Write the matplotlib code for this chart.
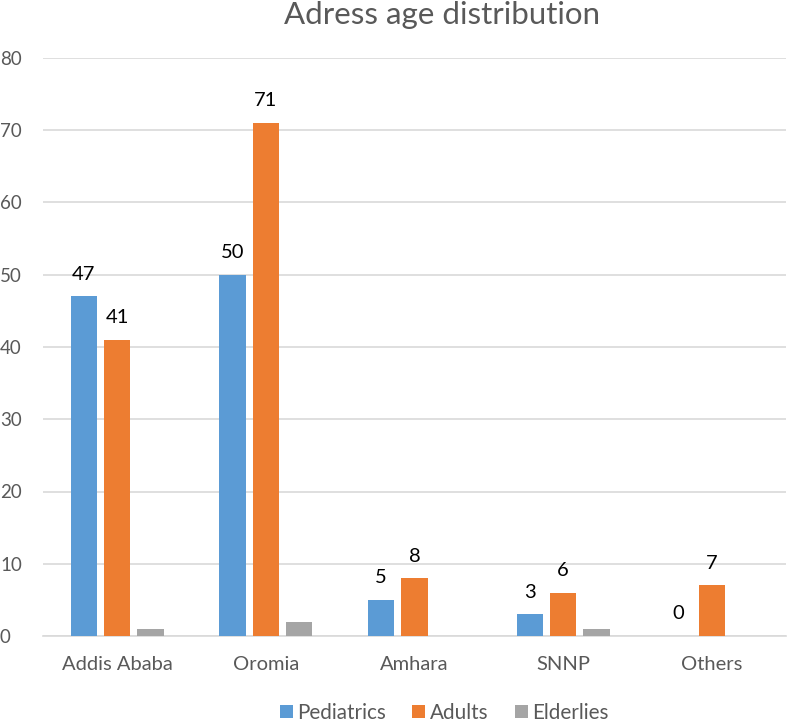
import matplotlib
matplotlib.use("Agg")
import matplotlib.pyplot as plt
import numpy as np

categories = ["Addis Ababa", "Oromia", "Amhara", "SNNP", "Others"]
pediatrics = [47, 50, 5, 3, 0]
adults = [41, 71, 8, 6, 7]
elderlies = [1, 2, 0, 1, 0]
series_names = ["Pediatrics", "Adults", "Elderlies"]
yticks = [0, 10, 20, 30, 40, 50, 60, 70, 80]

plt.rcParams['font.family'] = ['Lato', 'DejaVu Sans']

W, H = 787, 724
fig = plt.figure(figsize=(W / 100, H / 100), dpi=100)
ax = fig.add_axes([42.75 / W, 1 - 636.1 / H, 743.5 / W, 578.4 / H])

colors = ["#5B9BD5", "#ED7D31", "#A5A5A5"]
x = np.arange(len(categories))
w = 0.177
step = 0.224
all_series = [pediatrics, adults, elderlies]
for i, (vals, name, c) in enumerate(zip(all_series, series_names, colors)):
    pos = x + (i - 1) * step
    ax.bar(pos, vals, width=w, color=c, label=name, zorder=3)
    if i < 2:
        for p, v in zip(pos, vals):
            ax.annotate(str(v), (p, v), xytext=(0, 12), textcoords='offset points',
                        ha='center', va='baseline', fontsize=14.5, color='black')

ax.set_xlim(-0.5, len(categories) - 0.5)
ax.set_ylim(0, 80)
ax.set_yticks(yticks)
ax.set_xticks(x)
ax.set_xticklabels(categories, fontsize=14.5, color='#595959')
ax.tick_params(axis='y', labelsize=13.5, colors='#595959', length=0, pad=30.8)
ax.tick_params(axis='x', length=0, pad=14.5)
ax.grid(axis='y', color='#D9D9D9', linewidth=1.2, zorder=0)
for s in ['top', 'right', 'left']:
    ax.spines[s].set_visible(False)
ax.spines['bottom'].set_color('#D9D9D9')
ax.spines['bottom'].set_linewidth(1.2)
for lbl in ax.get_yticklabels():
    lbl.set_horizontalalignment('left')

fig.text(441.5 / W, 1 - 24 / H, "Adress age distribution", ha='center', va='baseline',
         fontsize=22.5, color='#595959')

leg = fig.legend(loc='lower center', bbox_to_anchor=(444 / W, -0.024), ncol=3, frameon=False,
                 fontsize=14.9, handlelength=0.63, handleheight=0.63, handletextpad=0.2,
                 columnspacing=1.3)
for t in leg.get_texts():
    t.set_color('#595959')

fig.savefig("out.png", dpi=100)
